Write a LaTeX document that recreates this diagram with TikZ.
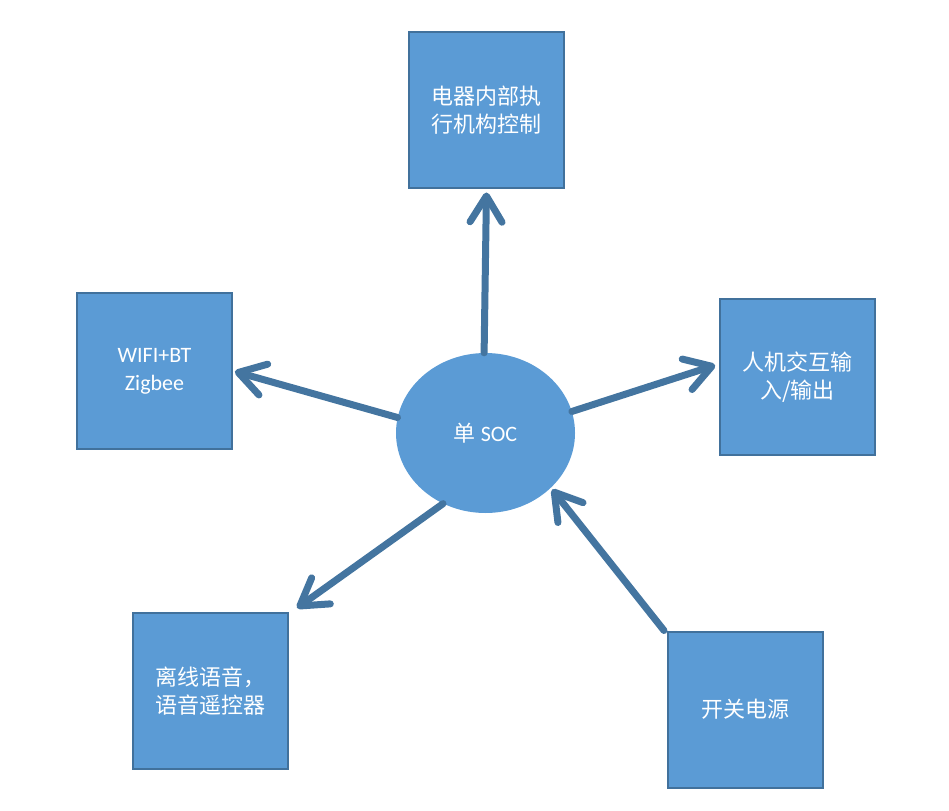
\documentclass[tikz,border=0pt]{standalone}
\usepackage{fontspec}
\setmainfont{Carlito}
\newfontfamily\cjk{Noto Sans CJK SC}
\usepackage{tikz}
\usetikzlibrary{shapes.geometric, arrows.meta, positioning, calc}
\definecolor{socfill}{RGB}{91, 155, 213}
\definecolor{socline}{RGB}{65, 113, 156}
\definecolor{socarrow}{RGB}{68, 117, 160}

\tikzset{
    blockbox/.style={draw=socline, fill=socfill, line width=2pt, minimum width=155pt,
        minimum height=156pt, text=white, align=center, font=\fontsize{22}{28}\selectfont},
    socnode/.style={ellipse, fill=socfill, minimum width=179pt, minimum height=160pt,
        text=white, font=\fontsize{22}{28}\selectfont},
    link/.style={draw=socarrow, line width=7pt, line cap=round,
        -{Straight Barb[round, length=26pt, width=32pt]}}
}

\begin{document}
\begin{tikzpicture}[x=1pt, y=-1pt]
    \useasboundingbox (0,0) rectangle (949,810);

    \node[socnode] (soc) at (485.5,433) {{\cjk 单} SOC};

    \node[blockbox] (ctrl) at (486.5,110.5) {\cjk 电器内部执\\\cjk 行机构控制};
    \node[blockbox] (radio) at (154.5,371) {WIFI+BT\\Zigbee};
    \node[blockbox] (hmi) at (797.5,377) {\cjk 人机交互输\\\cjk 入/输出};
    \node[blockbox, align=left] (voice) at (210.5,691) {\cjk 离线语音，\\\cjk 语音遥控器};
    \node[blockbox] (power) at (745.5,709.5) {\cjk 开关电源};

    % outputs of the SOC
    \draw[link, shorten >=3pt] (soc.91) -- (ctrl.south);
    \draw[link, shorten >=2pt] (soc.170) -- (radio.east);
    \draw[link, shorten >=4pt] (soc.14) -- ([yshift=13pt]hmi.west);
    \draw[link] (soc.239) -- ([shift={(8pt,4pt)}]voice.north east);
    % power in
    \draw[link, shorten >=2pt] ([xshift=-3pt]power.north west) -- (soc.-40);
\end{tikzpicture}
\end{document}
